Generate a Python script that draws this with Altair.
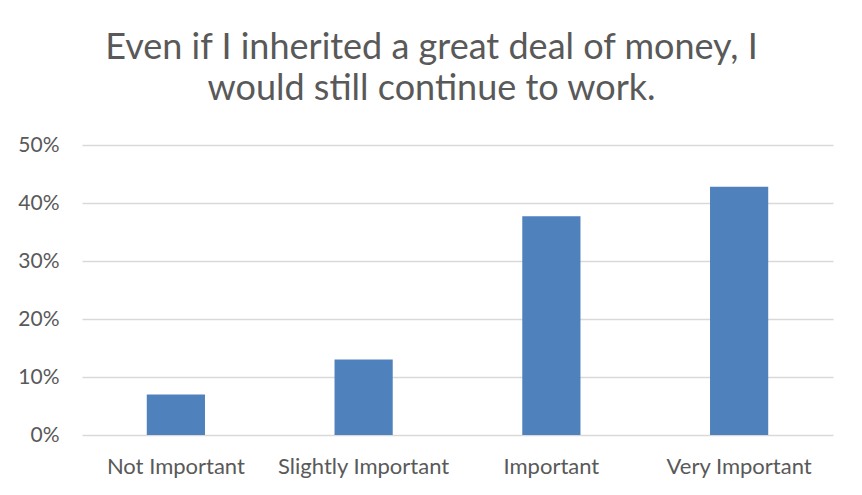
import altair as alt
import pandas as pd

categories = ["Not Important", "Slightly Important", "Important", "Very Important"]
shares = [0.07, 0.13, 0.377, 0.428]
y_ticks = [0, 0.1, 0.2, 0.3, 0.4, 0.5]
title_lines = ["Even if I inherited a great deal of money, I", "would still continue to work."]

df = pd.DataFrame({"category": categories, "share": shares})

FONT = "Lato"
GREY = "#595959"

chart = (
    alt.Chart(df)
    .mark_bar(color="#4F81BD")
    .encode(
        x=alt.X(
            "category:N",
            sort=categories,
            scale=alt.Scale(paddingInner=0.69, paddingOuter=0.345),
            axis=alt.Axis(
                title=None, labelAngle=0, domain=False, ticks=False, grid=False,
                labelPadding=21, labelFontSize=22, labelColor=GREY, labelFont=FONT,
            ),
        ),
        y=alt.Y(
            "share:Q",
            scale=alt.Scale(domain=[0, 0.5]),
            axis=alt.Axis(
                title=None, format=".0%", values=y_ticks, domain=False, ticks=False,
                labelPadding=23, labelFontSize=21, labelColor=GREY, labelFont=FONT,
                gridColor="#D9D9D9", gridWidth=1.5,
            ),
        ),
    )
    .properties(
        width=751,
        height=290,
        background="white",
        title=alt.TitleParams(
            text=title_lines, font=FONT, fontSize=36, fontWeight="normal",
            color=GREY, anchor="middle", dx=-26, offset=26, lineHeight=41,
        ),
        autosize=alt.AutoSizeParams(type="none"),
        padding={"left": 74, "top": 137, "right": 21, "bottom": 60},
    )
    .configure_view(strokeWidth=0, stroke=None)
)

chart.save("out.html", embed_options={"renderer": "svg", "actions": False})
